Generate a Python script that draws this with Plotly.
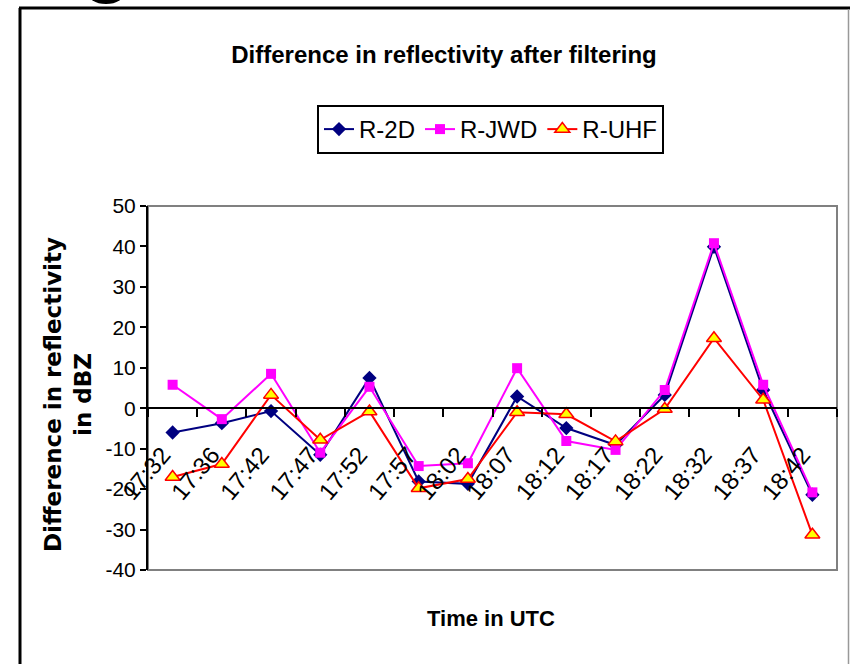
import plotly.graph_objects as go

times = ["17:32", "17:36", "17:42", "17:47", "17:52", "17:57", "18:02",
         "18:07", "18:12", "18:17", "18:22", "18:32", "18:37", "18:42"]
r_2d = [-6.0, -3.7, -0.7, -11.5, 7.5, -18.1, -18.7, 2.9, -4.9, -9.1, 3.3, 39.9, 4.5, -21.4]
r_jwd = [5.8, -2.7, 8.5, -11.0, 5.3, -14.3, -13.6, 9.9, -8.1, -10.3, 4.5, 40.8, 5.8, -20.8]
r_uhf = [-17.0, -13.8, 3.3, -7.8, -0.8, -19.8, -17.5, -1.0, -1.5, -8.2, -0.2, 17.3, 2.1, -31.3]

y_ticks = [-40, -30, -20, -10, 0, 10, 20, 30, 40, 50]
y_tick_text = ["-40", "-30", "-20", "-10", "0", "10", "20", "30", "40", "50"]
y_min, y_max = -40, 50

FONT = "Liberation Sans, Arial"

fig = go.Figure()
fig.add_trace(go.Scatter(x=times, y=r_2d, name="R-2D", mode="lines+markers",
                         line=dict(color="#000080", width=2),
                         marker=dict(symbol="diamond", size=11, color="#000080")))
fig.add_trace(go.Scatter(x=times, y=r_jwd, name="R-JWD", mode="lines+markers",
                         line=dict(color="#FF00FF", width=2),
                         marker=dict(symbol="square", size=10, color="#FF00FF")))
fig.add_trace(go.Scatter(x=times, y=r_uhf, name="R-UHF", mode="lines+markers",
                         line=dict(color="#FF0000", width=2),
                         marker=dict(symbol="triangle-up", size=13, color="#FFFF00",
                                     line=dict(color="#FF0000", width=1.5))))

L, R, T, B = 148, 13, 206, 94
W, H = 850, 664
pw, ph = W - L - R, H - T - B

def px_x(p):
    return (p - L) / pw

def px_y(p):
    return 1 - (p - T) / ph

shapes = [
    # plot area gray frame
    dict(type="rect", xref="paper", yref="paper", x0=0, x1=1, y0=0, y1=1,
         line=dict(color="#808080", width=2), layer="below"),
    # outer chart frame
    dict(type="line", xref="paper", yref="paper", x0=px_x(20), x1=px_x(20),
         y0=px_y(8), y1=px_y(670), line=dict(color="black", width=3)),
    dict(type="line", xref="paper", yref="paper", x0=px_x(19), x1=px_x(852),
         y0=px_y(8), y1=px_y(8), line=dict(color="black", width=3)),
    dict(type="line", xref="paper", yref="paper", x0=px_x(848.5), x1=px_x(848.5),
         y0=px_y(9), y1=px_y(670), line=dict(color="#999999", width=1.5)),
    # blob at top (part of a letter above the chart)
    dict(type="circle", xref="paper", yref="paper", x0=px_x(87), x1=px_x(125),
         y0=px_y(4), y1=px_y(-20), fillcolor="black", line=dict(width=0)),
]

annotations = [
    dict(text="<b>Time in UTC</b>", xref="paper", yref="paper",
         x=px_x(491), y=px_y(618), showarrow=False, xanchor="center", yanchor="middle",
         font=dict(family=FONT, size=22, color="black")),
    dict(text="<b>Difference in reflectivity<br>in dBZ</b>", xref="paper", yref="paper",
         x=px_x(68), y=px_y(395), showarrow=False, xanchor="center", yanchor="middle",
         textangle=-90, font=dict(family="DejaVu Sans", size=23, color="black")),
]

fig.update_layout(
    width=W, height=H,
    margin=dict(l=L, r=R, t=T, b=B, pad=0),
    paper_bgcolor="white", plot_bgcolor="white",
    title=dict(text="<b>Difference in reflectivity after filtering</b>",
               x=444 / W, xanchor="center", y=1 - 55 / H, yanchor="middle",
               font=dict(family=FONT, size=24, color="black")),
    showlegend=True,
    legend=dict(orientation="h", x=px_x(317), y=px_y(105), xanchor="left", yanchor="top",
                bordercolor="black", borderwidth=2, bgcolor="white",
                font=dict(family=FONT, size=24, color="black"),
                itemwidth=30, tracegroupgap=0),
    xaxis=dict(type="category", anchor="free", range=[-0.5, len(times) - 0.5],
               position=(0 - y_min) / (y_max - y_min),
               showline=True, linecolor="black", linewidth=2,
               ticks="outside", ticklen=8, tickwidth=1.5, tickcolor="black",
               tickson="boundaries", tickangle=-50,
               ticklabelstandoff=22, ticklabelshift=-10,
               tickfont=dict(family=FONT, size=24, color="black"),
               showgrid=False, zeroline=False),
    yaxis=dict(range=[y_min, y_max], tickvals=y_ticks, ticktext=y_tick_text,
               showline=True, linecolor="black",
               linewidth=2, ticks="outside", ticklen=6, tickwidth=1.5, tickcolor="black",
               tickfont=dict(family=FONT, size=21, color="black"),
               showgrid=False, zeroline=False),
    shapes=shapes,
    annotations=annotations,
)

fig.write_html("out.html")
